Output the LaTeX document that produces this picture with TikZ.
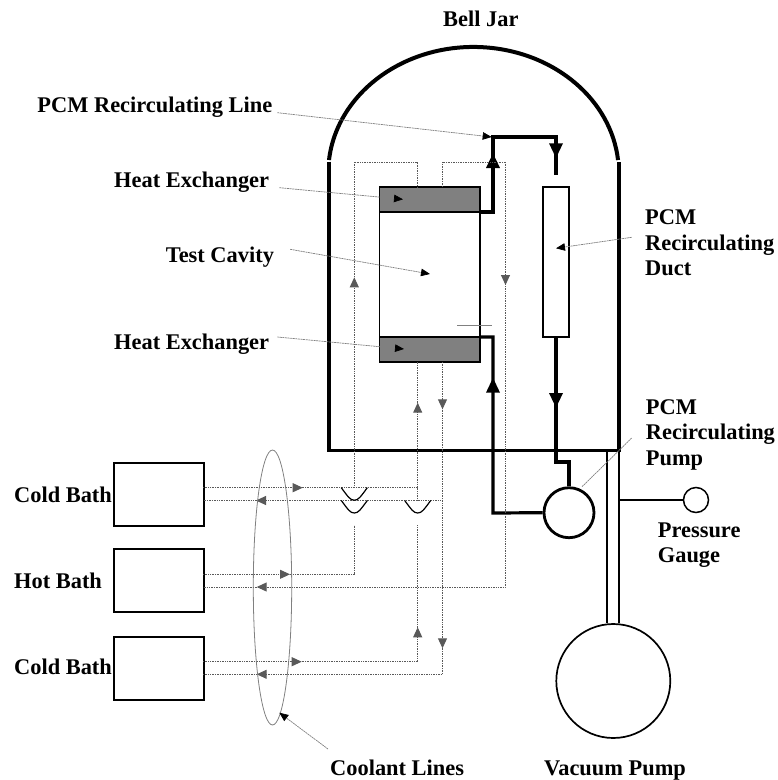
\documentclass[tikz,border=0pt]{standalone}
\usepackage{fontspec}
\setmainfont{Liberation Serif}
\usepackage{xcolor}
\usetikzlibrary{arrows.meta,shapes.geometric,decorations.markings}
\definecolor{coolgray}{gray}{0.35}
\definecolor{leadgray}{gray}{0.5}
\definecolor{hxgray}{gray}{0.5}

\begin{document}
\begin{tikzpicture}[x=1pt,y=-1pt,
   lbl/.style={font=\bfseries\fontsize{22.4}{25.5}\selectfont,inner sep=0pt,anchor=base west,align=left},
   box/.style={draw,line width=#1,inner sep=0pt,outer sep=0pt},
   box/.default=2pt,
   wall/.style={line width=3.6pt},
   pipe/.style={line width=1.7pt},
   pcm/.style={line width=3.2pt},
   lead/.style={leadgray,line width=0.7pt,dash pattern=on 2pt off 0.6pt,
                -{Triangle[length=9pt,width=7.5pt,color=black,fill=black]}},
   cool/.style={coolgray,line width=1pt,dash pattern=on 1pt off 0.7pt},
   jump/.style={line width=1.2pt},
   flow/.style={postaction={decorate,decoration={markings,
                mark=at position #1 with {\arrow{Triangle[length=10pt,width=9pt,color=coolgray,fill=coolgray]}}}}},
   bigflow/.style={postaction={decorate,decoration={markings,
                mark=at position #1 with {\arrow{Triangle[length=15pt,width=13pt,color=black,fill=black]}}}}}]
  \useasboundingbox (0,0) rectangle (778,780);

  % bell jar
  \coordinate (jarL) at (329,160);
  \draw[line width=4pt] (jarL) arc[start angle=185.9,end angle=354.1,x radius=145.3,y radius=126];
  \draw[wall] (329,161.5) -- (329,450.5) -- (619,450.5) -- (619,161.5);

  % cavity, exchangers, duct
  \node[box=1.4pt,minimum width=100.5,minimum height=175] (cavity) at (429.75,274.5) {};
  \node[box=1.4pt,fill=hxgray,minimum width=100.5,minimum height=25] (hxTop) at (429.75,199.5) {};
  \node[box=1.4pt,fill=hxgray,minimum width=100.5,minimum height=25] (hxBot) at (429.75,349.5) {};
  \node[box=1.4pt,minimum width=26,minimum height=150] (duct) at (556,262) {};
  \draw[leadgray,line width=0.9pt] (457,325) -- (492,325);

  % baths
  \node[box,minimum width=89.5,minimum height=63] (coldA) at (158.75,494.2) {};
  \node[box,minimum width=89.5,minimum height=63] (hotB) at (158.75,580.8) {};
  \node[box,minimum width=89.5,minimum height=63] (coldC) at (158.75,668) {};

  % pumps and gauge
  \node[circle,draw,line width=2.8pt,inner sep=0pt,minimum size=50] (pump) at (569,512.7) {};
  \node[circle,draw,line width=1.7pt,inner sep=0pt,minimum size=114] (vacPump) at (613.3,681) {};
  \node[circle,draw,line width=1.5pt,inner sep=0pt,minimum size=25] (gauge) at (696,500) {};
  \coordinate (tubeL) at (606.7,451);
  \coordinate (tubeR) at (619,451);
  \coordinate (gaugeTap) at (619,500);
  \draw[pipe] (tubeL) -- (tubeL |- vacPump.north);
  \draw[pipe] (tubeR) -- (tubeR |- vacPump.north);
  \draw[pipe] (gaugeTap) -- (gauge.west);

  % PCM loop
  \draw[pcm,bigflow=72pt,bigflow=172.3pt] (hxTop.south east) -- (493,212) -- (493,137) -- (556,137) -- (556,175);
  \draw[pcm,bigflow=185pt] (pump.west) -- (493,513) -- (493,337) -- (hxBot.north east);
  \draw[pcm,bigflow=71pt] (duct.south) -- (556,462) -- (569,462) -- (pump.north);

  % coolant lines
  \draw[cool,flow=99.7pt,flow=299.7pt] (203,487.7) -- (417.7,487.7) -- (417.7,362);
  \draw[cool] (417.7,487.7) -- (417.7,500.5);
  \draw[cool,flow=186.5pt] (442.5,500.5) -- (203,500.5);
  \draw[cool,flow=47.3pt,flow=286.3pt,flow=498.1pt] (442.5,362) -- (442.5,674.3) -- (203,674.3);
  \draw[cool,flow=87pt] (203,574.3) -- (354.3,574.3) -- (354.3,525);
  \draw[cool,flow=210.4pt] (354.3,487.7) -- (354.3,162) -- (417,162) -- (417,187);
  \draw[cool,flow=211.5pt,flow=762.3pt] (442,187) -- (442,162) -- (505.5,162) -- (505.5,587) -- (203,587);
  \draw[cool,flow=98.7pt,flow=249.1pt] (203,661.7) -- (417.7,661.7) -- (417.7,525);
  \foreach \ux/\uy in {354.3/487.7,354.3/500.5,417.7/500.5}
    \draw[jump,shift={(\ux,\uy)}] (-13,0) .. controls (-6,9.5) and (-4,12.5) .. (0,12.5)
        .. controls (4,12.5) and (6,9.5) .. (13,0);
  \node[ellipse,draw=leadgray,line width=0.8pt,inner sep=0pt,minimum width=38.4,minimum height=275] (coolRing) at (272.5,587.5) {};

  % labels
  \node[lbl] (lblJar) at (443,26) {Bell Jar};
  \node[lbl] (lblLine) at (37.3,112.7) {PCM Recirculating Line};
  \node[lbl] (lblHxTop) at (114,187.7) {Heat Exchanger};
  \node[lbl] (lblCavity) at (165.7,262.3) {Test Cavity};
  \node[lbl] (lblHxBot) at (114,349.7) {Heat Exchanger};
  \node[lbl] (lblDuct) at (645,275.7) {PCM\\Recirculating\\Duct};
  \node[lbl] (lblPump) at (645.7,465) {PCM\\Recirculating\\Pump};
  \node[lbl] (lblGauge) at (657.7,562.7) {Pressure\\Gauge};
  \node[lbl] (lblColdA) at (14,502) {Cold Bath};
  \node[lbl] (lblHot) at (14,588) {Hot Bath};
  \node[lbl] (lblColdC) at (14,674) {Cold Bath};
  \node[lbl] (lblCool) at (330,775) {Coolant Lines};
  \node[lbl] (lblVac) at (544,775) {Vacuum Pump};

  % leaders
  \coordinate (tipLine) at (491.7,137);
  \coordinate (tipHxTop) at (403,199.3);
  \coordinate (tipCavity) at (430,274);
  \coordinate (tipHxBot) at (404,349);
  \coordinate (tipDuct) at (556,248.3);
  \coordinate (tipCool) at (279.3,712.7);
  \coordinate (fromDuct) at (631.7,237.3);
  \coordinate (fromPump) at (631.7,438);
  \coordinate (tipPump) at (581.7,487);
  \draw[lead] ([shift={(5,0)}]lblLine.base east) -- (tipLine);
  \draw[lead] ([shift={(10,0)}]lblHxTop.base east) -- (tipHxTop);
  \draw[lead] ([shift={(16,-13)}]lblCavity.base east) -- (tipCavity);
  \draw[lead] ([shift={(8,-12.7)}]lblHxBot.base east) -- (tipHxBot);
  \draw[lead] (fromDuct) -- (tipDuct);
  \draw[lead] ([shift={(-2,-26)}]lblCool.base west) -- (tipCool);
  \draw[leadgray,line width=0.7pt,dash pattern=on 2pt off 0.6pt] (fromPump) -- (tipPump);
\end{tikzpicture}
\end{document}
